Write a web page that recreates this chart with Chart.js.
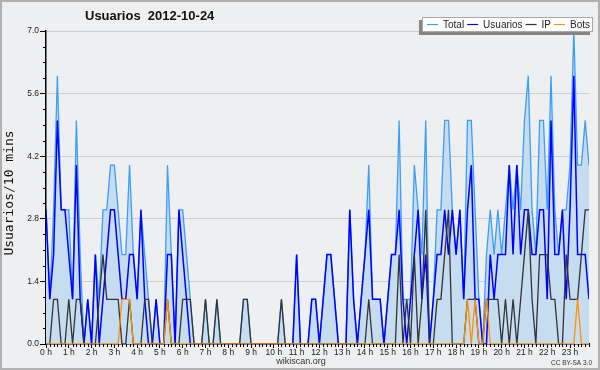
<!DOCTYPE html>
<html>
<head>
<meta charset="utf-8">
<script src="https://cdn.jsdelivr.net/npm/chart.js@4.4.0/dist/chart.umd.min.js"></script>
<style>
  html, body { margin: 0; padding: 0; background: #eeeff0; }
  #wrap { width: 600px; height: 370px; }
</style>
</head>
<body>
<div id="wrap"><canvas id="chart" width="600" height="370"></canvas></div>
<script>
// one slot every 10 minutes, 0:00 .. 23:50
const slots = Array.from({ length: 144 }, (_, i) => i);
const hourLabels = ['0 h', '1 h', '2 h', '3 h', '4 h', '5 h', '6 h', '7 h', '8 h', '9 h', '10 h', '11 h',
                    '12 h', '13 h', '14 h', '15 h', '16 h', '17 h', '18 h', '19 h', '20 h', '21 h', '22 h', '23 h'];
const yTicks = [0, 1.4, 2.8, 4.2, 5.6, 7.0];

const total = [
  3, 1, 3, 6, 3, 3,   3, 1, 5, 2, 0, 1,   0, 2, 1, 3, 3, 4,   4, 3, 2, 2, 4, 2,
  1, 3, 2, 1, 0, 1,   0, 0, 4, 2, 0, 3,   3, 2, 1, 0, 0, 0,   1, 0, 0, 1, 0, 0,
  0, 0, 0, 0, 1, 1,   0, 0, 0, 0, 0, 0,   0, 0, 1, 0, 0, 0,   2, 0, 0, 0, 1, 1,
  0, 1, 2, 2, 1, 0,   0, 0, 3, 1, 0, 1,   2, 4, 1, 1, 1, 0,   1, 2, 2, 5, 1, 1,
  1, 4, 3, 2, 5, 0,   1, 3, 3, 5, 5, 3,   2, 3, 1, 5, 5, 3,   1, 0, 2, 3, 2, 3,
  2, 3, 4, 3, 4, 3,   5, 6, 3, 2, 5, 5,   3, 6, 3, 2, 3, 3,   4, 7, 4, 4, 5, 4
];
const usuarios = [
  3, 1, 2, 5, 3, 3,   2, 1, 4, 1, 0, 1,   0, 2, 0, 1, 2, 3,   3, 2, 1, 1, 2, 2,
  1, 3, 1, 0, 0, 1,   0, 0, 2, 2, 0, 3,   2, 1, 0, 0, 0, 0,   0, 0, 0, 0, 0, 0,
  0, 0, 0, 0, 0, 0,   0, 0, 0, 0, 0, 0,   0, 0, 0, 0, 0, 0,   2, 0, 0, 0, 1, 1,
  0, 1, 2, 2, 1, 0,   0, 0, 3, 1, 0, 1,   2, 3, 1, 1, 1, 0,   1, 2, 2, 3, 1, 0,
  1, 2, 3, 1, 2, 0,   1, 2, 2, 3, 2, 3,   2, 3, 1, 3, 4, 1,   1, 0, 0, 2, 1, 2,
  2, 2, 4, 2, 4, 2,   3, 3, 2, 2, 3, 3,   1, 5, 2, 2, 3, 1,   3, 6, 2, 2, 2, 1
];
const ip = [
  0, 0, 1, 1, 0, 0,   1, 0, 1, 1, 0, 0,   0, 0, 1, 2, 1, 1,   1, 1, 0, 0, 1, 0,
  0, 0, 1, 1, 0, 0,   0, 0, 1, 0, 0, 0,   1, 1, 1, 0, 0, 0,   1, 0, 0, 1, 0, 0,
  0, 0, 0, 0, 1, 1,   0, 0, 0, 0, 0, 0,   0, 0, 1, 0, 0, 0,   0, 0, 0, 0, 0, 0,
  0, 0, 0, 0, 0, 0,   0, 0, 0, 0, 0, 0,   0, 1, 0, 0, 0, 0,   0, 0, 0, 2, 0, 1,
  0, 2, 0, 1, 3, 0,   0, 1, 1, 2, 3, 0,   0, 0, 0, 1, 1, 1,   0, 0, 1, 1, 1, 1,
  0, 1, 0, 1, 0, 1,   2, 3, 1, 0, 2, 2,   2, 1, 1, 0, 0, 2,   1, 1, 1, 2, 3, 3
];
const bots = [
  0, 0, 0, 0, 0, 0,   0, 0, 0, 0, 0, 0,   0, 0, 0, 0, 0, 0,   0, 0, 1, 1, 1, 0,
  0, 0, 0, 0, 0, 0,   0, 0, 1, 0, 0, 0,   0, 0, 0, 0, 0, 0,   0, 0, 0, 0, 0, 0,
  0, 0, 0, 0, 0, 0,   0, 0, 0, 0, 0, 0,   0, 0, 0, 0, 0, 0,   0, 0, 0, 0, 0, 0,
  0, 0, 0, 0, 0, 0,   0, 0, 0, 0, 0, 0,   0, 0, 0, 0, 0, 0,   0, 0, 0, 0, 0, 0,
  0, 0, 0, 0, 0, 0,   0, 0, 0, 0, 0, 0,   0, 0, 0, 1, 0, 1,   0, 0, 1, 0, 0, 0,
  0, 0, 0, 0, 0, 0,   0, 0, 0, 0, 0, 0,   0, 0, 0, 0, 0, 0,   0, 0, 1, 0, 0, 0
];

const BG = '#eeeff0';

// background, frame, title, y title and footer texts
const decorations = {
  id: 'decorations',
  beforeDraw(chart) {
    const ctx = chart.ctx;
    ctx.save();
    ctx.fillStyle = BG;
    ctx.fillRect(0, 0, chart.width, chart.height);
    ctx.restore();
  },
  afterDraw(chart) {
    const ctx = chart.ctx;
    ctx.save();
    ctx.strokeStyle = '#b0b0b0';
    ctx.lineWidth = 2;
    ctx.strokeRect(1, 1, chart.width - 2, chart.height - 2);

    ctx.fillStyle = '#111';
    ctx.font = 'bold 13px "Liberation Sans", Arial, sans-serif';
    ctx.textBaseline = 'middle';
    ctx.textAlign = 'left';
    ctx.fillText('Usuarios  2012-10-24', 85, 16.5);

    ctx.font = '13px "DejaVu Sans Mono", monospace';
    ctx.textAlign = 'center';
    ctx.translate(10, 193);
    ctx.rotate(-Math.PI / 2);
    ctx.fillText('Usuarios/10 mins', 0, 0);
    ctx.setTransform(1, 0, 0, 1, 0, 0);

    ctx.fillStyle = '#333';
    ctx.font = '9px "Liberation Sans", Arial, sans-serif';
    ctx.fillText('wikiscan.org', 301, 362);
    ctx.font = '6.5px "Liberation Sans", Arial, sans-serif';
    ctx.textAlign = 'right';
    ctx.fillText('CC BY-SA 3.0', 592, 363);
    ctx.restore();
  }
};

// small 10-minute ticks on x and sub ticks on y
const minorTicks = {
  id: 'minorTicks',
  afterDraw(chart) {
    const ctx = chart.ctx;
    const xs = chart.scales.x, ys = chart.scales.y;
    const area = chart.chartArea;
    ctx.save();
    ctx.strokeStyle = '#000';
    ctx.lineWidth = 1;
    ctx.beginPath();
    slots.forEach(s => {
      if (s % 6 === 0) return;
      const px = Math.round(xs.getPixelForValue(s)) + 0.5;
      ctx.moveTo(px, area.bottom);
      ctx.lineTo(px, area.bottom + 3);
    });
    for (let k = 0; k < yTicks.length - 1; k++) {
      for (let m = 1; m < 4; m++) {
        const v = yTicks[k] + (yTicks[k + 1] - yTicks[k]) * m / 4;
        const py = Math.round(ys.getPixelForValue(v)) + 0.5;
        ctx.moveTo(area.left - 3, py);
        ctx.lineTo(area.left, py);
      }
    }
    ctx.stroke();
    ctx.restore();
  }
};

// boxed legend with drop shadow, top right
const boxLegend = {
  id: 'boxLegend',
  afterDraw(chart) {
    const ctx = chart.ctx;
    const bx = 422, by = 17, bw = 171, bh = 15;
    ctx.save();
    ctx.fillStyle = '#858585';
    ctx.fillRect(bx - 3, by + 3, bw, bh);
    ctx.fillStyle = '#ffffff';
    ctx.fillRect(bx, by, bw, bh);
    ctx.strokeStyle = '#a8a8a8';
    ctx.lineWidth = 1;
    ctx.strokeRect(bx + 0.5, by + 0.5, bw - 1, bh - 1);
    ctx.font = '10px "Liberation Sans", Arial, sans-serif';
    ctx.textBaseline = 'middle';
    ctx.textAlign = 'left';
    let x = bx + 5;
    const cy = by + bh / 2;
    chart.data.datasets.forEach(ds => {
      ctx.strokeStyle = ds.borderColor;
      ctx.lineWidth = 1.2;
      ctx.beginPath();
      ctx.moveTo(x, cy);
      ctx.lineTo(x + 11, cy);
      ctx.stroke();
      ctx.fillStyle = '#222';
      ctx.fillText(ds.label, x + 16, cy + 0.5);
      x += 16 + ctx.measureText(ds.label).width + 3;
    });
    ctx.restore();
  }
};

new Chart(document.getElementById('chart'), {
  type: 'line',
  data: {
    labels: slots,
    datasets: [
      { label: 'Total', data: total, borderColor: '#3d9ef7', backgroundColor: '#c6dcf0',
        fill: 'origin', borderWidth: 1.3, order: 4 },
      { label: 'Usuarios', data: usuarios, borderColor: '#0000ff', borderWidth: 1.5, fill: false, order: 3 },
      { label: 'IP', data: ip, borderColor: '#333333', borderWidth: 1.3, fill: false, order: 2 },
      { label: 'Bots', data: bots, borderColor: '#ff9000', borderWidth: 1.3, fill: false, order: 1 }
    ]
  },
  options: {
    responsive: false,
    devicePixelRatio: 1,
    animation: false,
    events: [],
    layout: { padding: { top: 31, right: 11, left: 0, bottom: 0 } },
    elements: { point: { radius: 0 }, line: { tension: 0 } },
    plugins: { legend: { display: false }, title: { display: false }, tooltip: { enabled: false } },
    scales: {
      x: {
        type: 'linear',
        min: 0,
        max: 143,
        z: 1,
        afterFit: s => { s.height = 26; },
        afterBuildTicks: s => { s.ticks = hourLabels.map((_, h) => ({ value: h * 6 })); },
        border: { display: true, color: '#000', width: 1.5 },
        grid: { display: true, drawOnChartArea: false, drawTicks: true, tickLength: 4, color: '#000' },
        ticks: {
          autoSkip: false,
          maxRotation: 0,
          padding: 0,
          color: '#222',
          font: { family: '"Liberation Sans", Arial, sans-serif', size: 8.5 },
          callback: v => hourLabels[Math.round(v / 6)]
        }
      },
      y: {
        min: 0,
        max: 7,
        afterFit: s => { s.width = 46; },
        afterBuildTicks: s => { s.ticks = yTicks.map(v => ({ value: v })); },
        border: { display: true, color: '#000', width: 1.5 },
        grid: {
          color: c => (c.tick && c.tick.value === 0) ? 'rgba(0,0,0,0)' : '#cdcdcd',
          tickColor: '#000',
          tickLength: 6,
          lineWidth: 1
        },
        ticks: {
          padding: 1,
          color: '#222',
          font: { family: '"Liberation Sans", Arial, sans-serif', size: 8.5 },
          callback: v => v.toFixed(1)
        }
      }
    }
  },
  plugins: [decorations, minorTicks, boxLegend]
});
</script>
</body>
</html>
